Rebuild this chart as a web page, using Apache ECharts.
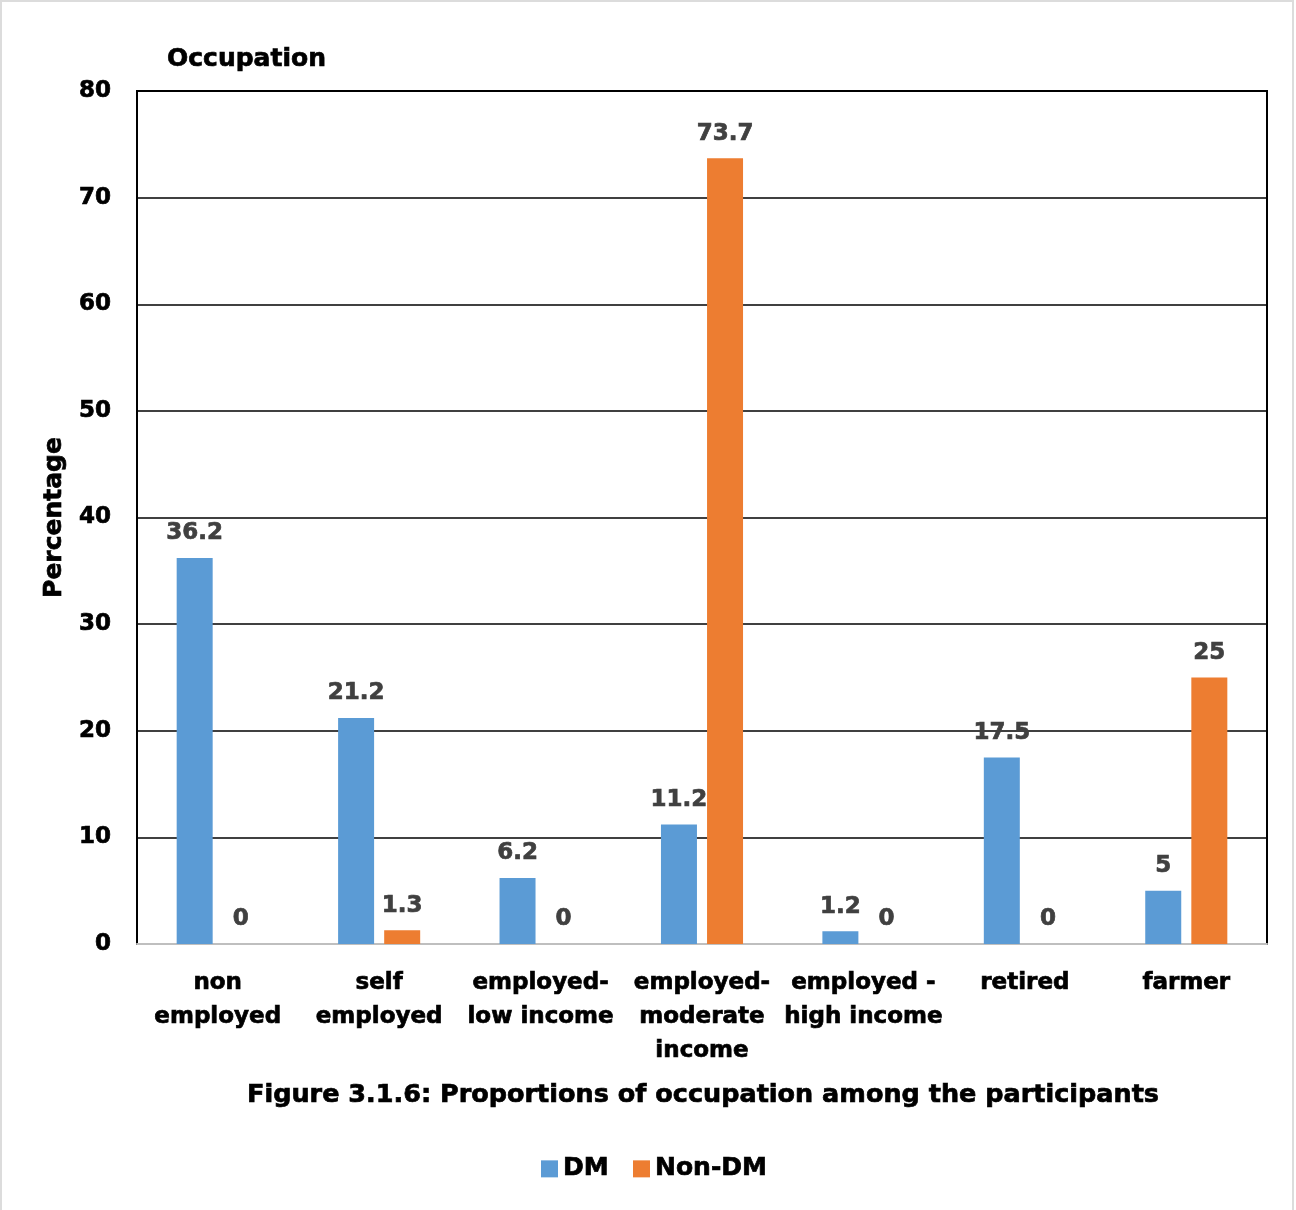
<!DOCTYPE html>
<html>
<head>
<meta charset="utf-8">
<script src="https://cdn.jsdelivr.net/npm/echarts@6/dist/echarts.min.js"></script>
<style>
  html, body { margin: 0; padding: 0; background: #fff; }
  #frame { position: absolute; left: 0; top: 0; width: 1290px; height: 1210px;
           border-left: 2px solid #dcdcdc; border-top: 2px solid #dcdcdc; border-right: 2px solid #dcdcdc; }
  #chart { width: 1296px; height: 1210px; position: absolute; left: 0; top: 0; }
</style>
</head>
<body>
<div id="frame"></div>
<div id="chart"></div>
<script>
// Occupation categories and percentages for each group
const categories = ['non\nemployed', 'self\nemployed', 'employed-\nlow income', 'employed-\nmoderate\nincome', 'employed -\nhigh income', 'retired', 'farmer'];
const dmValues = [36.2, 21.2, 6.2, 11.2, 1.2, 17.5, 5];
const nonDmValues = [0, 1.3, 0, 73.7, 0, 0, 25];
const yTicks = [0, 10, 20, 30, 40, 50, 60, 70, 80];

const FONT = '"DejaVu Sans", sans-serif';

// heavy bold text: bold face plus a thin stroke in the same colour
function heavy(size, color) {
  return {
    fontFamily: FONT, fontWeight: 'bold', fontSize: size, color: color,
    textBorderColor: color, textBorderWidth: 0.7
  };
}

const chart = echarts.init(document.getElementById('chart'), null, { renderer: 'canvas' });

const labelStyle = Object.assign({
  show: true,
  position: 'top',
  distance: 13
}, heavy(23, '#404040'));

chart.setOption({
  backgroundColor: 'transparent',
  animation: false,
  title: [
    {
      text: 'Occupation',
      left: 162, top: 42,
      textStyle: heavy(25, '#000')
    },
    {
      text: 'Figure 3.1.6: Proportions of occupation among the participants',
      left: 698, top: 1077, textAlign: 'center',
      textStyle: heavy(25.5, '#000')
    }
  ],
  legend: {
    data: ['DM', 'Non-DM'],
    left: 536, top: 1151,
    itemWidth: 17, itemHeight: 17, itemGap: 24,
    icon: 'rect',
    textStyle: heavy(25, '#000')
  },
  grid: {
    left: 137, right: 29, top: 91, bottom: 266,
    show: true, borderColor: '#000', borderWidth: 2, containLabel: false
  },
  xAxis: {
    type: 'category',
    data: categories,
    axisLine: { show: true, lineStyle: { color: '#bfbfbf', width: 2 } },
    axisTick: { show: false },
    axisLabel: Object.assign({ interval: 0, margin: 22, lineHeight: 34 }, heavy(23, '#000'))
  },
  yAxis: {
    type: 'value',
    min: yTicks[0], max: yTicks[yTicks.length - 1], interval: 10,
    name: 'Percentage',
    nameLocation: 'middle',
    nameGap: 69,
    nameTextStyle: heavy(25, '#000'),
    axisLine: { show: true, lineStyle: { color: '#000', width: 2 } },
    axisTick: { show: false },
    splitLine: { lineStyle: { color: '#000', width: 1.6 } },
    axisLabel: Object.assign({ margin: 26 }, heavy(23, '#000'))
  },
  series: [
    {
      name: 'DM', type: 'bar', data: dmValues,
      barWidth: 36, barGap: '28%',
      itemStyle: { color: '#5b9bd5' },
      label: labelStyle
    },
    {
      name: 'Non-DM', type: 'bar', data: nonDmValues,
      barWidth: 36,
      itemStyle: { color: '#ed7d31' },
      label: labelStyle
    }
  ]
});
</script>
</body>
</html>
